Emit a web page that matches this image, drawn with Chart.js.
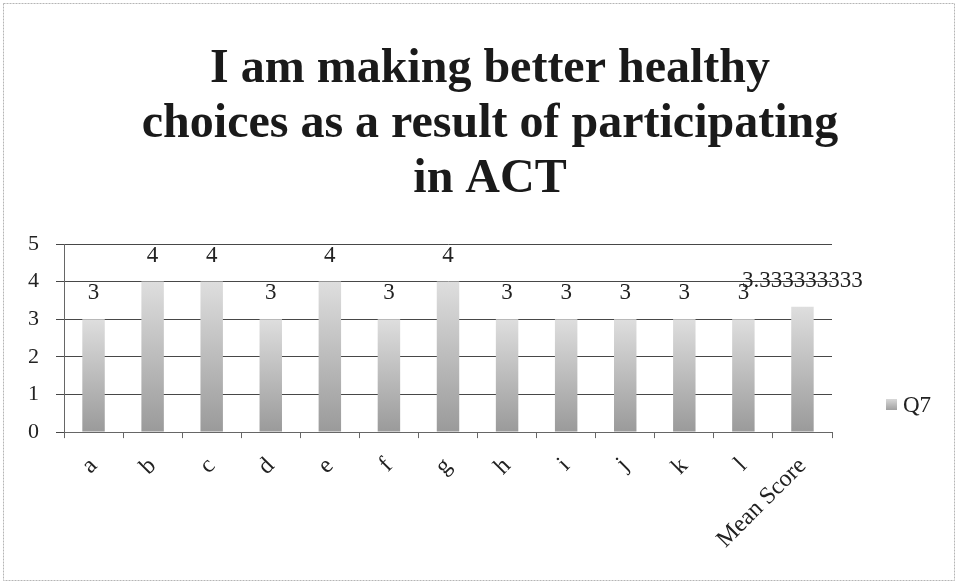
<!DOCTYPE html>
<html>
<head>
<meta charset="UTF-8">
<title>Q7 - healthy choices</title>
<script src="https://cdn.jsdelivr.net/npm/chart.js"></script>
<style>
  html, body { margin: 0; padding: 0; background: #fff; }
  #wrap { width: 958px; height: 584px; }
</style>
</head>
<body>
<div id="wrap"><canvas id="grafica"></canvas></div>
<script>
// datos
const categorias = ['a', 'b', 'c', 'd', 'e', 'f', 'g', 'h', 'i', 'j', 'k', 'l', 'Mean Score'];
const valoresQ7 = [3, 4, 4, 3, 4, 3, 4, 3, 3, 3, 3, 3, 3.333333333];
const etiquetasValor = ['3', '4', '4', '3', '4', '3', '4', '3', '3', '3', '3', '3', '3.333333333'];
const nombreSerie = 'Q7';
const tituloLineas = ['I am making better healthy', 'choices as a result of participating', 'in ACT'];

const fuente = "'Liberation Serif', 'DejaVu Serif', serif";

// degradado gris por barra (claro arriba, oscuro abajo)
function degradado(ctx) {
  const chart = ctx.chart;
  if (!chart.chartArea || ctx.type !== 'data') return '#bbbbbb';
  const y = chart.scales.y;
  const top = y.getPixelForValue(ctx.parsed.y);
  const bottom = y.getPixelForValue(0);
  const g = chart.ctx.createLinearGradient(0, top, 0, bottom);
  g.addColorStop(0, '#dedede');
  g.addColorStop(1, '#9a9a9a');
  return g;
}

// titulo centrado sobre todo el lienzo
const tituloPlugin = {
  id: 'tituloFijo',
  afterDraw(chart) {
    const c = chart.ctx;
    c.save();
    c.font = 'bold 48px ' + fuente;
    c.fillStyle = '#1a1a1a';
    c.textAlign = 'center';
    c.textBaseline = 'alphabetic';
    tituloLineas.forEach((linea, i) => {
      c.fillText(linea, 490, 82 + i * 55);
    });
    c.restore();
  }
};

// etiquetas de valor sobre cada barra
const etiquetasPlugin = {
  id: 'etiquetas',
  afterDatasetsDraw(chart) {
    const c = chart.ctx;
    const meta = chart.getDatasetMeta(0);
    c.save();
    c.font = '23px ' + fuente;
    c.fillStyle = '#222';
    c.textAlign = 'center';
    c.textBaseline = 'middle';
    meta.data.forEach((bar, i) => {
      c.fillText(etiquetasValor[i], bar.x, bar.y - 26);
    });
    c.restore();
  }
};

// leyenda a mano y borde del grafico
const leyendaPlugin = {
  id: 'leyenda',
  beforeDraw(chart) {
    const c = chart.ctx;
    c.save();
    c.strokeStyle = '#b5b5b5';
    c.lineWidth = 1;
    c.setLineDash([2, 1]);
    c.strokeRect(3.5, 3.5, chart.width - 7, chart.height - 7);
    c.restore();
  },
  afterDraw(chart) {
    const c = chart.ctx;
    c.save();
    const g = c.createLinearGradient(0, 399, 0, 410);
    g.addColorStop(0, '#d8d8d8');
    g.addColorStop(1, '#a0a0a0');
    c.fillStyle = g;
    c.fillRect(886, 399, 11, 11);
    c.font = '23px ' + fuente;
    c.fillStyle = '#222';
    c.textBaseline = 'middle';
    c.fillText(nombreSerie, 903, 406);
    c.restore();
  }
};

const ctx = document.getElementById('grafica');
new Chart(ctx, {
  type: 'bar',
  data: {
    labels: categorias,
    datasets: [{
      label: nombreSerie,
      data: valoresQ7,
      backgroundColor: degradado,
      borderWidth: 0,
      categoryPercentage: 1,
      barPercentage: 0.38
    }]
  },
  options: {
    responsive: true,
    maintainAspectRatio: false,
    animation: false,
    layout: { padding: { left: 11, right: 126, top: 244, bottom: 16 } },
    plugins: {
      legend: { display: false },
      tooltip: { enabled: false },
      title: { display: false }
    },
    scales: {
      y: {
        min: 0,
        max: 5,
        ticks: { stepSize: 1, color: '#222', font: { family: fuente, size: 22 }, padding: 17 },
        grid: { color: '#474747', lineWidth: 1, tickLength: 8, drawTicks: true },
        border: { color: '#666', width: 1 }
      },
      x: {
        offset: true,
        ticks: { color: '#222', font: { family: fuente, size: 24 }, minRotation: 45, maxRotation: 45, padding: 14 },
        grid: { offset: true, drawOnChartArea: false, color: '#666', tickLength: 6 },
        border: { color: '#666', width: 1 }
      }
    }
  },
  plugins: [tituloPlugin, etiquetasPlugin, leyendaPlugin]
});
</script>
</body>
</html>
